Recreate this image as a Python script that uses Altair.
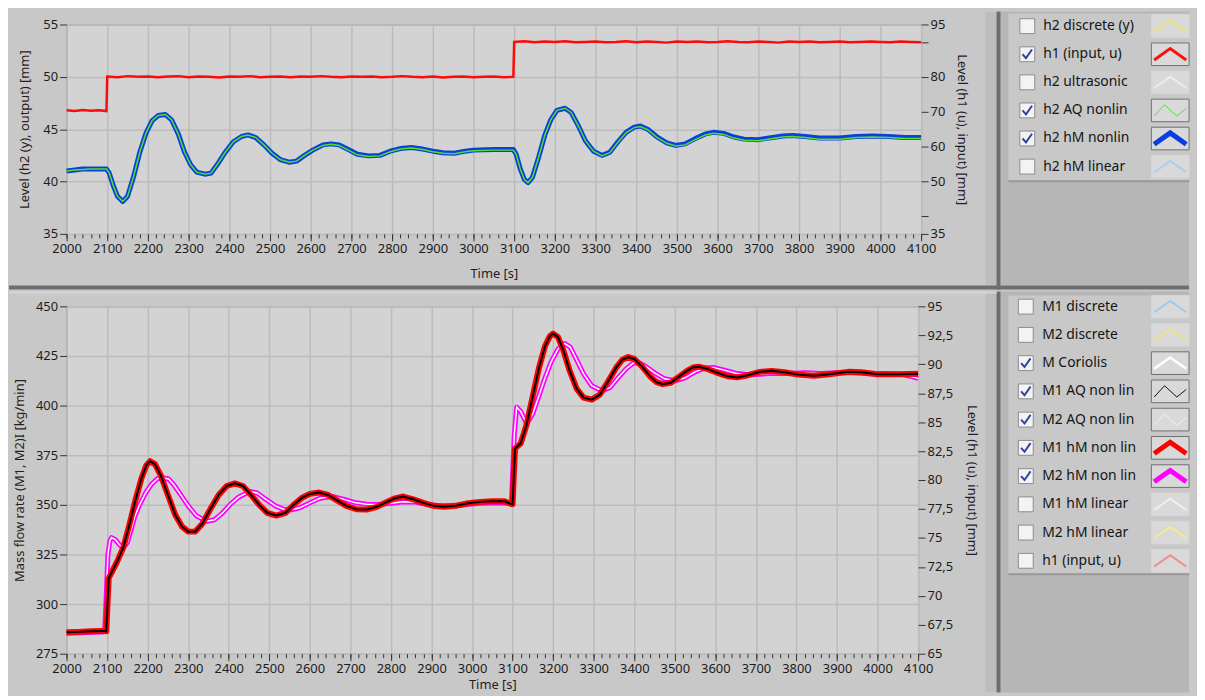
import altair as alt
import pandas as pd

FONT = "Noto Sans"

# ---------------- data ----------------
# top panel: h2 hM nonlin (blue, left axis)
h2_hM = [(2000,41.0),(2020,41.1),(2040,41.2),(2060,41.2),(2080,41.2),(2098,41.2),(2105,40.8),(2115,39.6),
         (2125,38.6),(2138,38.1),(2150,38.6),(2165,40.5),(2180,42.8),(2195,44.6),(2210,45.8),(2225,46.3),
         (2243,46.4),(2258,45.9),(2275,44.5),(2290,42.8),(2305,41.6),(2320,40.9),(2340,40.7),(2355,40.8),
         (2370,41.6),(2390,42.8),(2410,43.8),(2430,44.3),(2446,44.45),(2465,44.2),(2485,43.5),(2505,42.7),
         (2525,42.1),(2547,41.85),(2565,41.95),(2585,42.5),(2605,43.0),(2630,43.5),(2650,43.6),(2670,43.5),
         (2690,43.1),(2715,42.6),(2742,42.45),(2770,42.5),(2795,42.9),(2820,43.15),(2848,43.25),(2875,43.1),
         (2900,42.9),(2925,42.75),(2953,42.7),(2980,42.9),(3000,43.0),(3050,43.05),(3098,43.05),(3105,42.6),
         (3115,41.2),(3125,40.2),(3134,39.9),(3145,40.4),(3160,42.3),(3175,44.4),(3190,45.9),(3205,46.8),
         (3225,47.0),(3240,46.6),(3258,45.3),(3275,43.9),(3295,42.9),(3316,42.5),(3335,42.8),(3355,43.8),
         (3375,44.7),(3395,45.2),(3410,45.3),(3428,45.0),(3450,44.3),(3475,43.7),(3497,43.45),(3520,43.6),
         (3545,44.1),(3570,44.55),(3590,44.7),(3615,44.6),(3640,44.25),(3665,44.05),(3700,44.0),(3735,44.2),
         (3760,44.35),(3785,44.4),(3815,44.3),(3850,44.15),(3900,44.15),(3940,44.3),(3980,44.35),(4020,44.3),
         (4060,44.2),(4100,44.2)]
# top panel: h2 AQ nonlin (green, left axis)
h2_AQ = [(2000,41.0),(2020,41.1),(2040,41.15),(2060,41.2),(2080,41.2),(2098,41.2),(2105,40.8),(2115,39.6),
         (2125,38.6),(2138,38.1),(2150,38.6),(2165,40.5),(2180,42.8),(2195,44.6),(2210,45.8),(2225,46.3),
         (2243,46.4),(2258,45.9),(2275,44.5),(2290,42.8),(2305,41.6),(2320,40.9),(2340,40.7),(2355,40.8),
         (2370,41.6),(2390,42.8),(2410,43.8),(2430,44.3),(2446,44.45),(2465,44.2),(2485,43.5),(2505,42.7),
         (2525,42.1),(2547,41.85),(2565,41.95),(2585,42.5),(2605,43.0),(2630,43.45),(2650,43.55),(2670,43.45),
         (2690,43.05),(2715,42.55),(2742,42.4),(2770,42.45),(2795,42.85),(2820,43.1),(2848,43.2),(2875,43.05),
         (2900,42.85),(2925,42.7),(2953,42.65),(2980,42.85),(3000,42.95),(3050,43.0),(3098,43.0),(3105,42.6),
         (3115,41.2),(3125,40.2),(3134,39.9),(3145,40.4),(3160,42.3),(3175,44.4),(3190,45.9),(3205,46.8),
         (3225,47.0),(3240,46.6),(3258,45.3),(3275,43.9),(3295,42.9),(3316,42.45),(3335,42.75),(3355,43.75),
         (3375,44.65),(3395,45.15),(3410,45.25),(3428,44.95),(3450,44.25),(3475,43.65),(3497,43.4),(3520,43.5),
         (3545,44.0),(3570,44.45),(3590,44.6),(3615,44.5),(3640,44.15),(3665,43.95),(3700,43.9),(3735,44.1),
         (3760,44.25),(3785,44.3),(3815,44.2),(3850,44.05),(3900,44.05),(3940,44.2),(3980,44.25),(4020,44.2),
         (4060,44.1),(4100,44.1)]
# top panel: h1 (input, u) (red, right axis)
h1_input = [(2000,70.4),(2020,70.2),(2040,70.5),(2060,70.3),(2080,70.4),(2098,70.2),(2100,80.1),(2125,79.9),
            (2150,80.2),(2175,80.0),(2200,80.1),(2225,79.9),(2250,80.1),(2275,80.2),(2300,79.9),(2325,80.1),
            (2350,80.0),(2375,79.8),(2400,80.1),(2425,80.0),(2450,80.2),(2475,79.9),(2500,80.0),(2525,80.1),
            (2550,79.9),(2575,80.1),(2600,80.0),(2625,80.2),(2650,80.0),(2675,79.9),(2700,80.1),(2725,80.0),
            (2750,80.1),(2775,79.9),(2800,80.0),(2825,80.2),(2850,80.0),(2875,79.9),(2900,80.1),(2925,79.8),
            (2950,80.0),(2975,80.1),(3000,79.9),(3025,80.0),(3050,80.1),(3075,79.9),(3098,80.0),(3100,90.0),
            (3125,90.2),(3150,89.9),(3175,90.1),(3200,90.0),(3225,90.2),(3250,89.9),(3275,90.0),(3300,90.1),
            (3325,89.9),(3350,90.0),(3375,90.2),(3400,89.9),(3425,90.1),(3450,90.0),(3475,89.8),(3500,90.1),
            (3525,90.0),(3550,90.1),(3575,89.9),(3600,90.0),(3625,90.2),(3650,90.0),(3675,89.9),(3700,90.1),
            (3725,90.0),(3750,89.8),(3775,90.1),(3800,90.0),(3825,90.1),(3850,89.9),(3875,90.0),(3900,90.1),
            (3925,89.9),(3950,90.0),(3975,90.1),(4000,90.0),(4025,89.9),(4050,90.1),(4075,90.0),(4100,89.9)]

# bottom panel: M1 hM non lin (red) / M1 AQ non lin (black) [kg/min]
M1_hM = [(2000,285.8),(2030,286.0),(2060,286.3),(2090,286.5),(2098,286.3),(2101,300.0),(2104,313.0),(2115,317.5),
         (2125,321.5),(2140,328.5),(2155,340.0),(2170,352.5),(2185,363.5),(2197,370.0),(2206,372.0),(2218,370.5),
         (2232,365.0),(2250,355.0),(2268,345.0),(2285,339.0),(2300,336.5),(2317,336.5),(2335,340.5),(2355,348.0),
         (2375,355.0),(2395,359.5),(2415,360.8),(2435,359.5),(2455,355.0),(2475,350.0),(2495,346.0),(2517,344.6),
         (2540,346.0),(2560,350.0),(2580,353.5),(2600,355.5),(2623,356.2),(2645,355.0),(2665,352.5),(2690,349.5),
         (2715,347.8),(2740,347.6),(2765,349.0),(2790,351.5),(2810,353.3),(2830,354.2),(2855,352.8),(2880,351.0),
         (2905,349.5),(2930,349.0),(2960,349.5),(2990,350.8),(3020,351.5),(3050,351.8),(3080,351.8),(3095,350.5),
         (3100,350.3),(3103,365.0),(3106,378.3),(3120,381.0),(3134,390.0),(3150,405.0),(3165,419.0),(3180,430.0),
         (3192,435.0),(3200,436.3),(3212,434.5),(3225,428.0),(3240,418.0),(3258,408.5),(3275,404.0),(3295,403.0),
         (3315,405.5),(3335,412.0),(3355,419.0),(3370,423.0),(3385,424.5),(3400,423.5),(3420,419.5),(3440,414.5),
         (3455,411.8),(3470,410.8),(3490,411.5),(3510,414.5),(3530,417.5),(3545,419.2),(3559,419.6),(3580,418.5),
         (3605,416.5),(3630,414.8),(3654,414.2),(3680,415.3),(3710,417.0),(3739,417.5),(3770,416.8),(3805,415.6),
         (3843,415.0),(3880,415.8),(3928,417.0),(3960,416.8),(4000,415.8),(4050,415.8),(4100,416.0)]
# bottom panel: M2 hM non lin (magenta) / M2 AQ non lin (white)
M2_hM = [(2000,285.3),(2030,285.6),(2060,285.8),(2090,285.9),(2094,286.5),(2097,300.0),(2102,325.0),(2107,332.0),
         (2111,333.5),(2120,332.5),(2130,330.0),(2139,328.3),(2150,331.0),(2160,338.0),(2168,344.0),(2180,350.0),
         (2195,356.0),(2210,360.5),(2225,363.3),(2240,363.5),(2252,363.0),(2265,360.0),(2280,355.5),(2300,349.5),
         (2320,344.5),(2345,341.7),(2365,342.5),(2385,346.0),(2405,350.5),(2425,354.0),(2452,356.7),(2470,356.0),
         (2490,353.0),(2515,349.5),(2535,347.8),(2555,347.5),(2575,348.5),(2600,351.0),(2625,353.3),(2655,354.2),
         (2680,353.0),(2710,351.2),(2740,350.3),(2770,350.2),(2800,350.8),(2830,351.6),(2860,351.4),(2890,350.2),
         (2920,349.6),(2950,349.5),(2985,350.2),(3020,350.8),(3060,351.0),(3090,350.8),(3097,350.6),(3100,365.0),
         (3104,385.0),(3110,399.2),(3120,397.0),(3135,390.8),(3150,396.0),(3165,405.0),(3180,414.0),(3195,422.0),
         (3212,428.5),(3228,431.3),(3242,429.5),(3258,423.0),(3275,416.0),(3295,410.0),(3320,407.5),(3340,409.0),
         (3360,414.0),(3380,418.5),(3398,421.5),(3413,421.5),(3430,419.5),(3450,416.5),(3475,413.5),(3500,412.5),
         (3525,414.0),(3550,417.0),(3575,419.0),(3595,419.2),(3620,418.0),(3650,416.3),(3680,415.5),(3710,415.8),
         (3745,416.3),(3780,416.2),(3820,416.5),(3860,416.2),(3900,416.6),(3940,416.5),(3980,416.0),(4020,416.2),
         (4060,415.8),(4080,414.8),(4100,413.7)]

# axes
X_DOMAIN = [2000, 4100]
X_MAJOR = list(range(2000, 4101, 100))
X_MINOR = list(range(2000, 4101, 20))
TOP_LEFT_TICKS = [35, 40, 45, 50, 55]
TOP_RIGHT_TICKS = [35, 40, 50, 60, 70, 80, 90, 95]
BOT_LEFT_TICKS = [275, 300, 325, 350, 375, 400, 425, 450]
BOT_RIGHT_TICKS = [65, 67.5, 70, 72.5, 75, 77.5, 80, 82.5, 85, 87.5, 90, 92.5, 95]

# legends
LEG_TOP_NAMES = ["h2 discrete (y)", "h1 (input, u)", "h2 ultrasonic", "h2 AQ nonlin", "h2 hM nonlin", "h2 hM linear"]
LEG_TOP_ON = [False, True, False, True, True, False]
LEG_TOP_COLORS = ["#ebe27a", "#ff1010", "#ececec", "#4fe02a", "#0a3ee0", "#a9cdf2"]
LEG_TOP_WIDTHS = [2, 3, 2, 1, 5, 2]
LEG_TOP_THIN = [False, False, False, True, False, False]

LEG_BOT_NAMES = ["M1 discrete", "M2 discrete", "M Coriolis", "M1 AQ non lin", "M2 AQ non lin",
                 "M1 hM non lin", "M2 hM non lin", "M1 hM linear", "M2 hM linear", "h1 (input, u)"]
LEG_BOT_ON = [False, False, True, True, True, True, True, False, False, False]
LEG_BOT_COLORS = ["#9dc9f2", "#f1e28e", "#ffffff", "#101010", "#f2f2f2", "#ff0000", "#ff00ff", "#f0f0f0", "#f3ec8a", "#f28a8a"]
LEG_BOT_WIDTHS = [2, 2, 2.5, 1, 1, 5, 5, 2, 2, 2]
LEG_BOT_THIN = [False, False, False, True, True, False, False, False, False, False]

# ---------------- layout / style ----------------
OX = 58               # plot left, chart coords
TOP_OY, TOP_W, TOP_H = 13, 861, 211
BOT_OY, BOT_W, BOT_H = 295, 858, 350
TOTAL_W = 1189
TOTAL_H = 684

PANEL = "#c8c8c8"
PLOT_BG = "#d3d3d3"
DARK = "#6e6e6e"
LEG_AREA = "#b6b6b6"

CHEVRON = "M-0.85,0.3L0,-0.3L0.85,0.3"
ZIGZAG = "M-0.85,0.3L-0.3,-0.3L0.35,0.3L0.85,-0.1"
CHECK = "M-0.55,0.0L-0.15,0.45L0.55,-0.55"
SWBOX = "M-1,-0.6L1,-0.6L1,0.6L-1,0.6Z"

one = pd.DataFrame({"k": [0]})


def frame(points):
    return pd.DataFrame(points, columns=["t", "v"])


def deco(x1, x2, y1, y2, color, oy):
    return alt.Chart(one).mark_rect(color=color).encode(
        x=alt.value(x1 - OX), x2=alt.value(x2 - OX),
        y=alt.value(y1 - oy), y2=alt.value(y2 - oy))


def x_scale():
    return alt.Scale(domain=X_DOMAIN, nice=False, zero=False)


def x_major(w, ty):
    return alt.X("t:Q", scale=x_scale(), axis=alt.Axis(
        values=X_MAJOR, format="d", title="Time [s]", grid=True, tickSize=7, labelPadding=2,
        domain=False, labelFlush=False, labelOverlap=False, orient="bottom",
        titleX=w / 2, titleY=ty, titleAlign="center", titleBaseline="middle"))


def x_minor():
    return alt.X("t:Q", scale=x_scale(), axis=alt.Axis(
        values=X_MINOR, labels=False, title="", grid=False, tickSize=4, domain=False, orient="bottom"))


def y_left(domain, ticks, title, h, tx):
    return alt.Y("v:Q", scale=alt.Scale(domain=domain, nice=False, zero=False), axis=alt.Axis(
        values=ticks, grid=True, tickSize=7, labelPadding=2, domain=False, labelFlush=False,
        labelOverlap=False, orient="left", title=title, titleX=tx, titleY=h / 2,
        titleAngle=270, titleAlign="center", titleBaseline="middle"))


def y_right(domain, ticks, title, h, tx, label_expr):
    return alt.Y("v:Q", scale=alt.Scale(domain=domain, nice=False, zero=False), axis=alt.Axis(
        values=ticks, grid=False, tickSize=7, labelPadding=2, domain=False, labelFlush=False,
        labelOverlap=False, orient="right", title=title, titleX=tx, titleY=h / 2,
        titleAngle=90, titleAlign="center", titleBaseline="middle", labelExpr=label_expr,
        titleColor="#1e1e30"))


def legend(names, on, colors, widths, thin, y0, y1, cbx, txx, swx):
    n = len(names)
    df = pd.DataFrame({"name": names, "row": list(range(n)), "on": on, "color": colors,
                       "w": widths, "shape": [ZIGZAG if t else CHEVRON for t in thin],
                       "frame": ["#707070" if o else "#d6d6d6" for o in on]})
    y = alt.Y("row:Q", scale=alt.Scale(domain=[0, n - 1], range=[y0, y1]), axis=None)
    base = alt.Chart(df)
    box = base.mark_point(shape="square", filled=True, size=225, fill="#f3f3f3", stroke="#8c8c8c",
                          strokeWidth=1, opacity=1).encode(x=alt.value(cbx - OX), y=y)
    chk = base.transform_filter("datum.on").mark_point(
        shape=CHECK, filled=False, size=300, stroke="#33439a", strokeWidth=2, opacity=1).encode(
        x=alt.value(cbx - OX), y=y)
    txt = base.mark_text(align="left", baseline="middle", font=FONT, fontSize=14, color="#151515").encode(
        x=alt.value(txx - OX), y=y, text="name:N")
    swb = base.mark_point(shape=SWBOX, filled=True, size=1444, fill="#d9d9d9", strokeWidth=1,
                          opacity=1).encode(x=alt.value(swx - OX), y=y,
                                            stroke=alt.Stroke("frame:N", scale=None))
    sw = base.mark_point(filled=False, size=1444, opacity=1, strokeJoin="miter").encode(
        x=alt.value(swx - OX), y=y, shape=alt.Shape("shape:N", scale=None),
        stroke=alt.Stroke("color:N", scale=None), strokeWidth=alt.StrokeWidth("w:Q", scale=None))
    return alt.layer(box, chk, txt, swb, sw)


# ---------------- top panel ----------------
# decorations never overlap the plot area or the axes
top_decos = [
    deco(999, TOTAL_W, 0, 276, LEG_AREA, TOP_OY),
    deco(984, 995, 0, 276, "#bdbdbd", TOP_OY),
    deco(995, 999, 0, 280, DARK, TOP_OY),
    deco(0, TOTAL_W, 276, 280, DARK, TOP_OY),
    deco(1007, TOTAL_W, 2, 170, PANEL, TOP_OY),
    deco(1007, TOTAL_W, 170, 172, "#9a9a9a", TOP_OY),
]

blue = alt.Chart(frame(h2_hM)).mark_line(color="#0b3fdc", strokeWidth=5, strokeJoin="round").encode(
    x=x_major(TOP_W, 40), y=y_left([35, 55], TOP_LEFT_TICKS, "Level (h2 (y), output) [mm]", TOP_H, -42))
green = alt.Chart(frame(h2_AQ)).mark_line(color="#4fe02a", strokeWidth=1.5).encode(
    x=x_major(TOP_W, 40), y=y_left([35, 55], TOP_LEFT_TICKS, "Level (h2 (y), output) [mm]", TOP_H, -42))
red = alt.Chart(frame(h1_input)).mark_line(color="#ff0a0a", strokeWidth=2.5).encode(
    x=x_minor(), y=y_right([35, 95], TOP_RIGHT_TICKS, "Level (h1 (u), input) [mm]", TOP_H, 41,
                           "(datum.value == 40 || datum.value == 90) ? '' : datum.label"))

top = alt.layer(
    *top_decos,
    alt.layer(blue, green),
    red,
    legend(LEG_TOP_NAMES, LEG_TOP_ON, LEG_TOP_COLORS, LEG_TOP_WIDTHS, LEG_TOP_THIN,
           14.7 - TOP_OY, 156.2 - TOP_OY, 1026, 1042, 1170),
).resolve_scale(y="independent").resolve_axis(x="independent").properties(width=TOP_W, height=TOP_H)

# ---------------- bottom panel ----------------
bot_decos = [
    deco(999, TOTAL_W, 280, TOTAL_H, LEG_AREA, BOT_OY),
    deco(984, 995, 280, TOTAL_H, "#bdbdbd", BOT_OY),
    deco(995, 999, 280, TOTAL_H, DARK, BOT_OY),
    deco(0, 995, 280, 282, "#d6d6d6", BOT_OY),
    deco(1007, TOTAL_W, 284, 564, PANEL, BOT_OY),
    deco(1007, TOTAL_W, 564, 566, "#9a9a9a", BOT_OY),
]

XB = x_major(BOT_W, 31)
YL = y_left([275, 450], BOT_LEFT_TICKS, "Mass flow rate (M1, M2)I [kg/min]", BOT_H, -47)
mag = alt.Chart(frame(M2_hM)).mark_line(color="#ff00ff", strokeWidth=5, strokeJoin="round").encode(x=XB, y=YL)
white = alt.Chart(frame(M2_hM)).mark_line(color="#ffffff", strokeWidth=1.5).encode(x=XB, y=YL)
m1 = alt.Chart(frame(M1_hM)).mark_line(color="#ff0000", strokeWidth=6, strokeJoin="round").encode(x=XB, y=YL)
black = alt.Chart(frame(M1_hM)).mark_line(color="#000000", strokeWidth=2).encode(x=XB, y=YL)
# h1 (input, u) is unchecked in this graph: invisible, it only carries the right axis
h1_hidden = alt.Chart(frame(h1_input)).mark_line(opacity=0).encode(
    x=x_minor(), y=y_right([65, 95], BOT_RIGHT_TICKS, "Level (h1 (u), input) [mm]", BOT_H, 54,
                           "datum.value % 1 ? replace(format(datum.value, '.1f'), '.', ',') : format(datum.value, 'd')"))

bottom = alt.layer(
    *bot_decos,
    alt.layer(mag, white, m1, black),
    h1_hidden,
    legend(LEG_BOT_NAMES, LEG_BOT_ON, LEG_BOT_COLORS, LEG_BOT_WIDTHS, LEG_BOT_THIN,
           295.3 - BOT_OY, 551.4 - BOT_OY, 1024.5, 1041, 1170),
).resolve_scale(y="independent").resolve_axis(x="independent").properties(width=BOT_W, height=BOT_H)

chart = alt.vconcat(top, bottom, spacing=0, padding=0, background=PANEL).configure_view(
    fill=PLOT_BG, stroke="#8c8c8c", strokeWidth=1
).configure_axis(
    labelFont=FONT, labelFontSize=13, labelColor="#1c1c1c", titleFont=FONT, titleFontSize=13,
    titleFontWeight="normal", titleColor="#2a1c1c", tickColor="#333333", tickWidth=1,
    gridColor="#bcbcbc", gridWidth=1.5
)

chart.save("out.html", embed_options={"renderer": "svg", "actions": False})
